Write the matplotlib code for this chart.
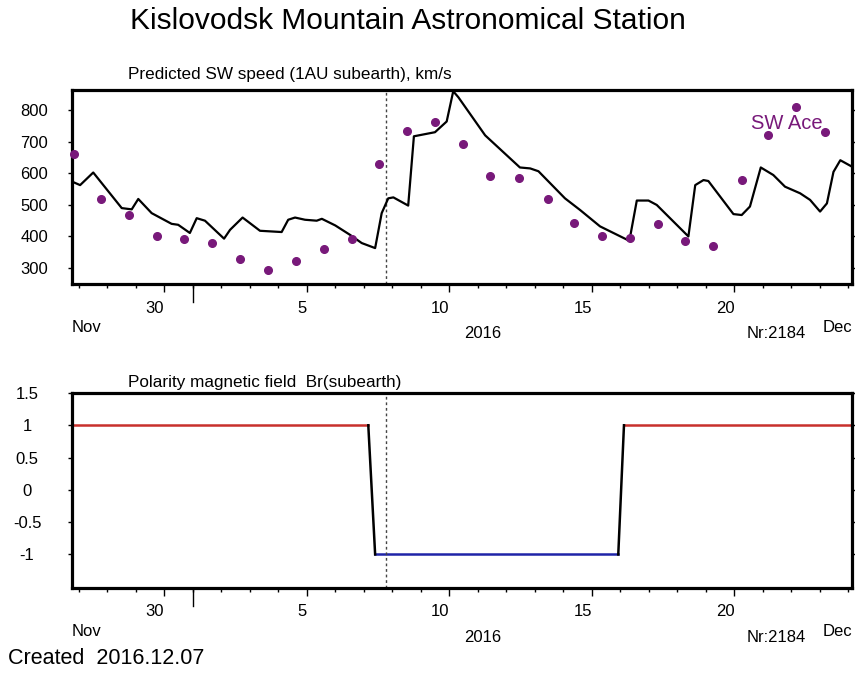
import matplotlib
matplotlib.use("Agg")

import matplotlib.pyplot as plt
from matplotlib.transforms import blended_transform_factory
import numpy as np

plt.rcParams["font.family"] = ["Liberation Sans", "DejaVu Sans"]

# день: Nov 30 = 30, Dec 1 = 31, Dec 5 = 35 ...
# predicted SW speed (black line)
speed_day = [26.77, 27.05, 27.51, 28.51, 28.86, 29.09, 29.56, 30.26, 30.49, 30.90,
             31.14, 31.43, 32.10, 32.31, 32.75, 33.36, 34.12, 34.35, 34.59, 34.94,
             35.35, 35.53, 36.00, 36.52, 36.93, 37.40, 37.63, 37.86, 38.04, 38.56,
             38.76, 39.50, 39.91, 40.14, 40.32, 41.26, 42.48, 42.84, 43.13, 44.06,
             44.59, 45.29, 45.76, 46.32, 46.58, 46.99, 47.28, 48.39, 48.63, 48.92,
             49.09, 49.97, 50.26, 50.55, 50.93, 51.37, 51.78, 52.31, 52.66, 53.01,
             53.25, 53.48, 53.72, 54.18]
speed_val = [574, 563, 603, 490, 486, 519, 474, 440, 437, 411,
             458, 450, 393, 421, 460, 418, 414, 453, 460, 453,
             450, 456, 435, 405, 379, 363, 474, 521, 524, 498,
             718, 731, 765, 861, 842, 721, 619, 616, 607, 521,
             484, 432, 411, 386, 514, 514, 500, 400, 563, 579,
             576, 471, 468, 495, 619, 595, 558, 537, 516, 479,
             505, 605, 642, 619]

# SW ACE measurements (purple dots)
ace_day = [26.82, 27.77, 28.76, 29.75, 30.69, 31.69, 32.67, 33.65, 34.61, 35.60,
           36.58, 37.54, 38.53, 39.51, 40.49, 41.44, 42.44, 43.45, 44.38, 45.37,
           46.35, 47.34, 48.28, 49.27, 50.26, 51.20, 52.18, 53.18]
ace_val = [663, 519, 468, 400, 393, 379, 327, 294, 321, 361,
           393, 629, 735, 763, 692, 592, 585, 520, 444, 403,
           394, 438, 386, 370, 578, 722, 811, 732]

# polarity Br(subearth)
pol_pos1_day = [26.7, 37.16]
pol_neg_day = [37.40, 45.93]
pol_pos2_day = [46.13, 54.2]
switch1_day = [37.16, 37.40]
switch2_day = [45.93, 46.13]

NOW_DAY = 37.78
XLIM = (26.765, 54.13)
MAJOR_DAYS = [30, 35, 40, 45, 50]
MAJOR_LABELS = ["30", "5", "10", "15", "20"]
MONTH_START = 31

speed_ticks = [300, 400, 500, 600, 700, 800]
pol_ticks = [-1, -0.5, 0, 0.5, 1, 1.5]
pol_tick_labels = ["-1", "-0.5", "0", "0.5", "1", "1.5"]

W, H = 855, 673
PURPLE = "#78197a"

fig = plt.figure(figsize=(W / 100, H / 100), dpi=100)
ax1 = fig.add_axes([72 / W, 1 - 284 / H, 780 / W, 194 / H])
ax2 = fig.add_axes([72 / W, 1 - 588 / H, 780 / W, 195 / H])


def px_below(ax, px):
    return -px / (ax.get_position().height * H)


def style_axis(ax, yticks, ylabels, label_center_px):
    for s in ax.spines.values():
        s.set_linewidth(2.3)
    ax.set_xlim(*XLIM)
    ax.set_xticks(MAJOR_DAYS)
    ax.set_xticklabels([])
    ax.set_xticks(np.arange(27, 55), minor=True)
    ax.tick_params(axis="x", which="major", length=6, width=1, direction="out")
    ax.tick_params(axis="x", which="minor", length=3, width=1, direction="out")
    ax.set_yticks(yticks)
    ax.set_yticklabels(ylabels)
    ax.tick_params(axis="y", which="both", length=3, width=1, direction="out",
                   right=True, labelsize=12)
    for t in ax.yaxis.get_major_ticks():
        t.tick2line.set_marker(matplotlib.lines.TICKLEFT)
    pad = (72 - label_center_px) * 0.72 - 3
    ax.tick_params(axis="y", pad=pad)
    for lab in ax.get_yticklabels():
        lab.set_ha("center")
    tr = blended_transform_factory(ax.transData, ax.transAxes)
    ax.plot([MONTH_START, MONTH_START], [0, px_below(ax, 18)], color="black",
            lw=1, transform=tr, clip_on=False)
    for d, lab in zip(MAJOR_DAYS, MAJOR_LABELS):
        ax.text(d, px_below(ax, 24), lab, transform=tr, ha="right", va="center", fontsize=12)
    ax.text(0.0, px_below(ax, 43), "Nov", transform=ax.transAxes, ha="left", va="center", fontsize=12)
    ax.text(1.0, px_below(ax, 43), "Dec", transform=ax.transAxes, ha="right", va="center", fontsize=12)
    ax.text(41.19, px_below(ax, 49), "2016", transform=tr, ha="center", va="center", fontsize=12)
    ax.text(51.47, px_below(ax, 49), "Nr:2184", transform=tr, ha="center", va="center", fontsize=12)
    ax.axvline(NOW_DAY, color="#444444", lw=1, linestyle=(0, (2, 2)))


# --- верхняя панель: скорость СВ ---
ax1.plot(speed_day, speed_val, color="black", lw=1.6, zorder=3)
ax1.plot(ace_day, ace_val, "o", color=PURPLE, ms=5.5, zorder=4, clip_on=False)
ax1.set_ylim(249, 865)
style_axis(ax1, speed_ticks, [str(v) for v in speed_ticks], 34)
ax1.text(50.6, 759, "SW Ace", color=PURPLE, fontsize=14.5, ha="left", va="center")
ax1.text(128 / W, 1 - 75 / H, "Predicted SW speed (1AU subearth), km/s", transform=fig.transFigure,
         ha="left", va="center", fontsize=12.3)

# --- нижняя панель: полярность ---
ax2.plot(pol_pos1_day, [1, 1], color="#c8302c", lw=1.8)
ax2.plot(pol_neg_day, [-1, -1], color="#1f24a8", lw=1.8)
ax2.plot(pol_pos2_day, [1, 1], color="#c8302c", lw=1.8)
ax2.plot(switch1_day, [1, -1], color="black", lw=1.8)
ax2.plot(switch2_day, [-1, 1], color="black", lw=1.8)
ax2.set_ylim(-1.52, 1.5)
style_axis(ax2, pol_ticks, pol_tick_labels, 27)
ax2.text(128 / W, 1 - 383 / H, "Polarity magnetic field  Br(subearth)", transform=fig.transFigure,
         ha="left", va="center", fontsize=12.3)

fig.text(408 / W, 1 - 21 / H, "Kislovodsk Mountain Astronomical Station", ha="center", va="center",
         fontsize=21.5)
fig.text(8 / W, 1 - 658 / H, "Created  2016.12.07", ha="left", va="center", fontsize=15.5)

fig.savefig("out.png", dpi=100)
